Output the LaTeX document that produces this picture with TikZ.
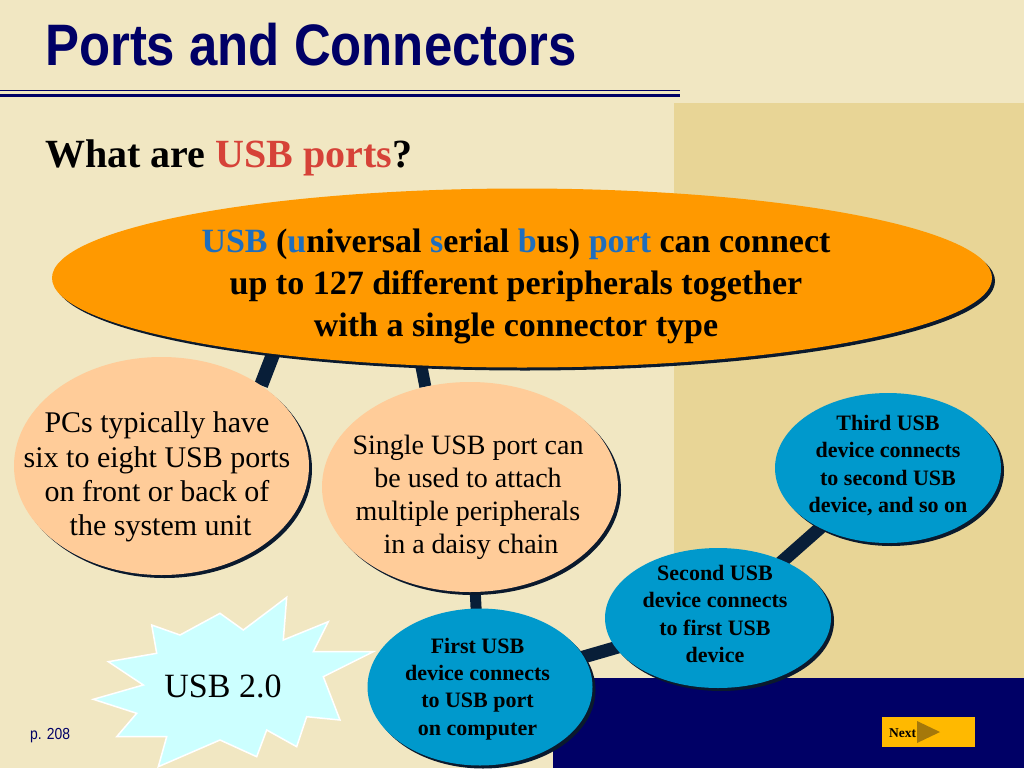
\documentclass[tikz,border=0pt]{standalone}
\usepackage{fontspec}
\setmainfont{Liberation Serif}
\newfontfamily\arialfont{Liberation Sans}
\usetikzlibrary{shapes.geometric,shadows}
\definecolor{bgc}{RGB}{241,231,194}
\definecolor{panelc}{RGB}{232,213,150}
\definecolor{navyc}{RGB}{0,0,102}
\definecolor{usbred}{RGB}{214,66,56}
\definecolor{usbblue}{RGB}{30,110,190}
\definecolor{orangec}{RGB}{255,153,0}
\definecolor{peachc}{RGB}{255,204,153}
\definecolor{bluec}{RGB}{0,153,204}
\definecolor{connc}{RGB}{8,30,56}
\definecolor{shadc}{RGB}{10,25,45}
\definecolor{starc}{RGB}{204,255,255}
\definecolor{nextc}{RGB}{255,185,0}
\definecolor{arrowc}{RGB}{165,120,10}
\pgfdeclarelayer{back}
\pgfsetlayers{back,main}
\tikzset{
  bubble/.style={ellipse, inner sep=0pt, draw=none,
    drop shadow={shadow xshift=3pt, shadow yshift=-3pt, opacity=1, fill=shadc}},
  obub/.style={bubble, fill=orangec},
  pbub/.style={bubble, fill=peachc},
  bbub/.style={bubble, fill=bluec},
  txt/.style={inner sep=0pt, align=center, text=black},
  otxt/.style={txt, font=\fontsize{34}{42}\selectfont\bfseries},
  ptxt/.style={txt, font=\fontsize{30}{34.3}\selectfont},
  qtxt/.style={txt, font=\fontsize{28}{33}\selectfont},
  btxt/.style={txt, font=\fontsize{22}{27.2}\selectfont\bfseries},
  conn/.style={draw=connc, line width=14pt, line cap=butt},
  starstyle/.style={fill=starc, draw=white, line width=1.5pt, line join=miter},
}
\begin{document}
\begin{tikzpicture}[x=1pt,y=-1pt]
\useasboundingbox (0,0) rectangle (1024,768);
\begin{pgfonlayer}{back}
  \fill[bgc] (0,0) rectangle (1024,768);
  \fill[panelc] (674,103) rectangle (1024,678);
  \fill[navyc] (553,678) rectangle (1024,768);
  \draw[navyc, line width=1.5pt] (0,90.5) -- (680,90.5);
  \draw[navyc, line width=3.5pt] (0,95.5) -- (680,95.5);
\end{pgfonlayer}

% title
\node[inner sep=0pt, anchor=base west, text=navyc] (title) at (45,65)
  {\scalebox{0.87}[1]{\arialfont\bfseries\fontsize{58.5}{60}\selectfont Ports and Connectors}};
\node[inner sep=0pt, anchor=base west] (sub) at (45,167)
  {\fontsize{40}{48}\selectfont\bfseries What are \textcolor{usbred}{USB ports}?};

% orange ellipse
\node[obub, minimum width=940pt, minimum height=179pt] (o) at (522,278) {};
\node[otxt] (ot) at (516,286.5)
  {\textcolor{usbblue}{USB} (\textcolor{usbblue}{u}niversal \textcolor{usbblue}{s}erial \textcolor{usbblue}{b}us) \textcolor{usbblue}{port} can connect\\
   up to 127 different peripherals together\\
   with a single connector type};

% peach ellipses
\node[pbub, minimum width=295pt, minimum height=218pt] (p1) at (161.5,466) {};
\node[ptxt] (p1t) at (157,477)
  {PCs typically have\\six to eight USB ports\\on front or back of\\\hspace*{7pt}the system unit};
\node[pbub, minimum width=296pt, minimum height=210pt] (p2) at (470,487) {};
\node[qtxt] (p2t) at (468,497)
  {Single USB port can\\be used to attach\\multiple peripherals\\\hspace*{6pt}in a daisy chain};

% starburst
\draw[starstyle] (93.3,699.3) -- (143.3,685) -- (108.3,661.7) -- (156.7,653.3)
  -- (151.7,625) -- (180,635) -- (220,613.3) -- (243.3,630) -- (286.7,597.3)
  -- (283.3,640) -- (328.3,621.7) -- (313.3,651.7) -- (373.3,651.7)
  -- (323.3,676.7) -- (340,720) -- (306.7,716.7) -- (296.7,746.7)
  -- (266.7,730) -- (256.7,756.7) -- (220,740) -- (158.3,766.7)
  -- (166.7,736.7) -- (116.7,736.7) -- (136.7,713.3) -- cycle;
\node[inner sep=0pt, anchor=base, font=\fontsize{34}{40}\selectfont] (usb20) at (223,697) {USB 2.0};

% blue ellipses
\node[bbub, minimum width=226pt, minimum height=150pt] (b3) at (888,468) {};
\node[btxt] (b3t) at (888,465.5)
  {Third USB\\device connects\\to second USB\\device, and so on};
\node[bbub, minimum width=226pt, minimum height=140pt] (b2) at (718,618) {};
\node[btxt] (b2t) at (715,614)
  {Second USB\\device connects\\to first USB\\device};
\node[bbub, minimum width=225pt, minimum height=157pt] (b1) at (480,687) {};
\node[btxt] (b1t) at (477.5,689)
  {First USB\\device connects\\to USB port\\on computer};

% connectors
\begin{pgfonlayer}{back}
  \draw[conn] (p1.39.7) -- (o.197.5);
  \draw[conn, line width=12pt] (p2.114) -- (o.221.9);
  \draw[conn, line width=11pt] (p2.center) -- (b1.center);
  \draw[conn, line width=13pt] (b1.center) -- (b2.center);
  \draw[conn, line width=13pt] (b2.center) -- (b3.center);
\end{pgfonlayer}

% page and next button
\node[inner sep=0pt, anchor=base west, text=navyc] (page) at (30,739)
  {\scalebox{0.87}[1]{\arialfont\fontsize{16}{18}\selectfont p. 208}};
\node[fill=nextc, minimum width=93pt, minimum height=30pt, inner sep=0pt] (next) at (928.5,732) {};
\fill[arrowc] (917,721) -- (940,732) -- (917,743) -- cycle;
\node[inner sep=0pt, anchor=base west, font=\fontsize{13.5}{15}\selectfont\bfseries] (nextt) at (889,737) {Next};
\end{tikzpicture}
\end{document}
